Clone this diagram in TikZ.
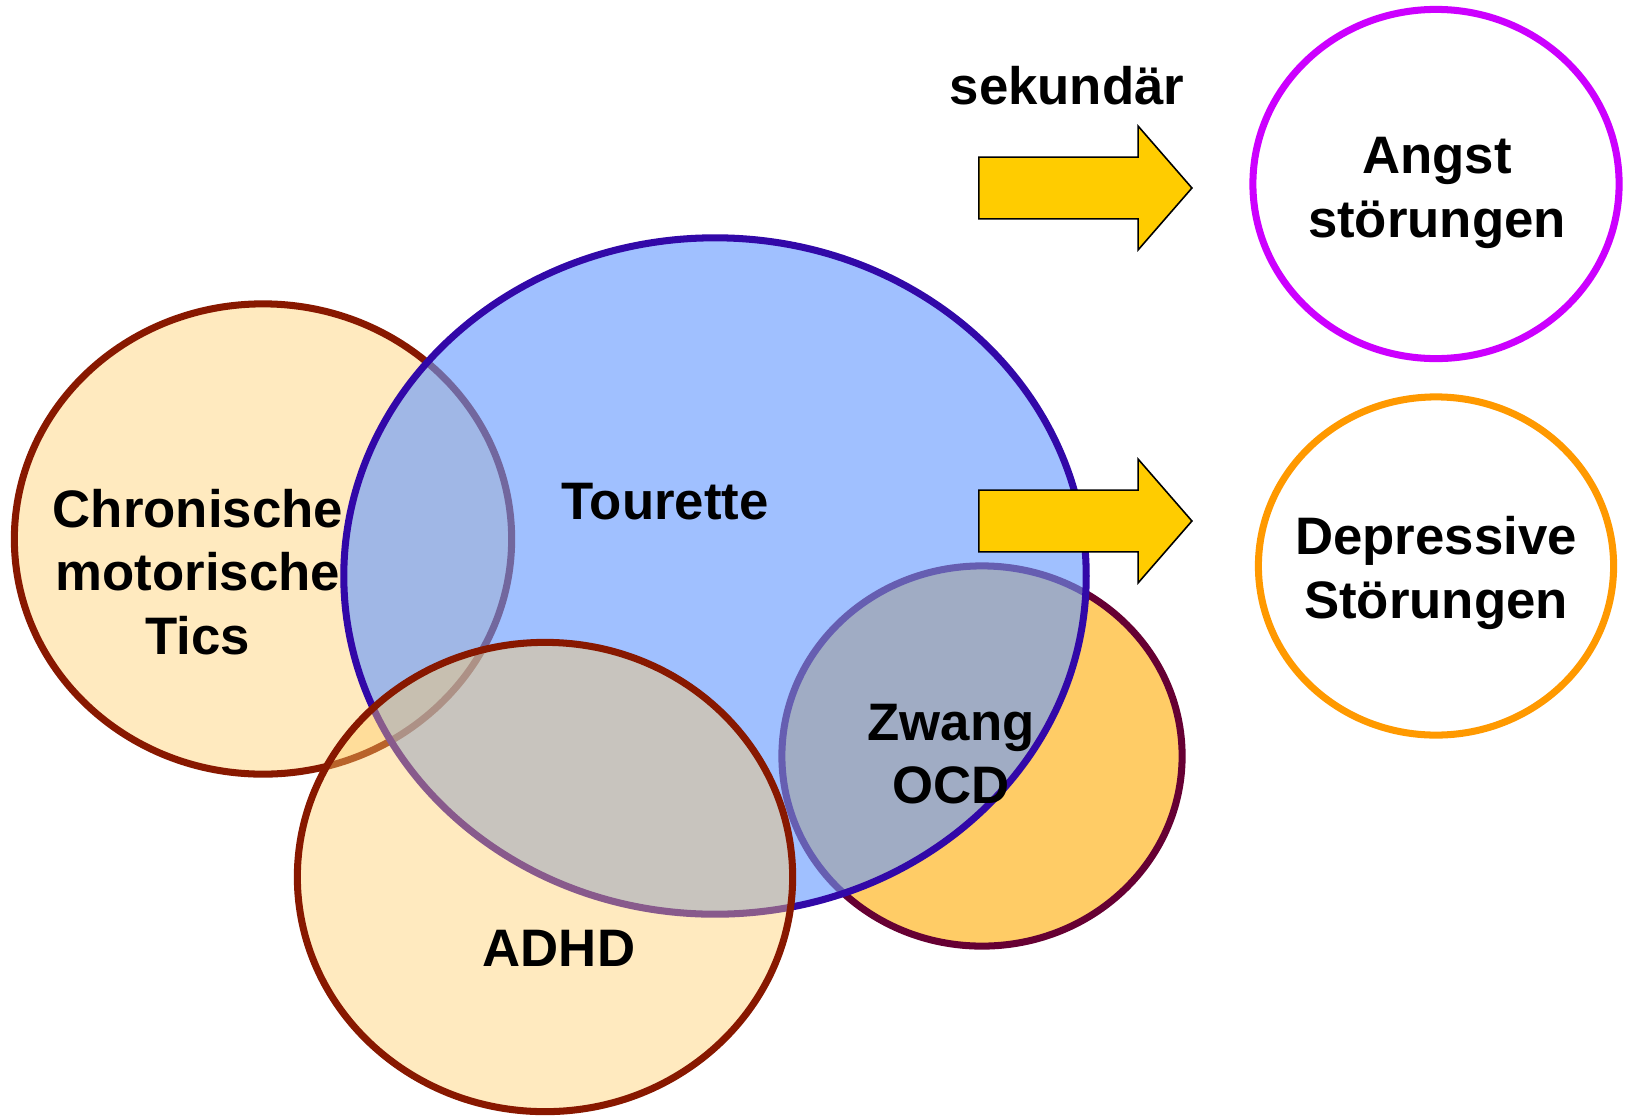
\documentclass[tikz,border=0pt]{standalone}
\usepackage{fontspec}
\setmainfont{Liberation Sans}
\usepackage{tikz}
\usetikzlibrary{shapes.geometric,shapes.arrows,positioning}
\definecolor{ticred}{RGB}{136,24,0}
\definecolor{tourblue}{RGB}{50,8,168}
\definecolor{tourfill}{RGB}{102,153,255}
\definecolor{setfill}{RGB}{255,204,102}
\definecolor{ocdred}{RGB}{102,0,51}
\definecolor{angstpink}{RGB}{204,0,255}
\definecolor{deprorange}{RGB}{255,153,0}
\definecolor{arrowgold}{RGB}{255,204,0}
\tikzset{
  setellipse/.style={ellipse,inner sep=0pt,line width=2pt},
  setlabel/.style={font=\fontsize{15}{18}\selectfont\bfseries,align=center,inner sep=0pt},
  secarrow/.style={single arrow,draw=black,line width=0.45pt,fill=arrowgold,anchor=tail,
    inner sep=0.3cm,minimum height=2.13cm,single arrow head extend=0.31cm,
    single arrow tip angle=98}
}

\begin{document}
\begin{tikzpicture}[x=0.01cm,y=-0.01cm]
  \useasboundingbox (0,0) rectangle (1625,1115);
  \node[setellipse,draw=ticred,fill=setfill,fill opacity=0.42,minimum width=4.97cm,minimum height=4.70cm] (tics) at (263,539) {};
  \node[setellipse,draw=ocdred,fill=setfill,minimum width=4.00cm,minimum height=3.80cm] (ocd) at (982,756) {};
  \node[setellipse,draw=tourblue,fill=tourfill,fill opacity=0.62,minimum width=7.42cm,minimum height=6.76cm] (tourette) at (715,576) {};
  \node[setellipse,draw=ticred,fill=setfill,fill opacity=0.42,minimum width=4.95cm,minimum height=4.69cm] (adhd) at (545,877) {};
  \node[setellipse,draw=angstpink,minimum width=3.66cm,minimum height=3.49cm] (angst) at (1436,184) {};
  \node[setellipse,draw=deprorange,minimum width=3.55cm,minimum height=3.38cm] (depr) at (1436,566) {};

  \node[secarrow] (arrowtop) at (978,188) {};
  \node[secarrow] (arrowbottom) at (978,521) {};

  \node[setlabel] (sekundaer) at (1067,86) {sekundär};
  \node[setlabel] (ticslabel) at (198,572) {Chronische\\motorische\\Tics};
  \node[setlabel] (tourettelabel) at (665,502) {Tourette};
  \node[setlabel] (ocdlabel) at (951,754) {Zwang\\OCD};
  \node[setlabel] (adhdlabel) at (559,948) {ADHD};
  \node[setlabel] (angstlabel) at (1437,193) {Angst\\störungen};
  \node[setlabel] (deprlabel) at (1436,573) {Depressive\\Störungen};
\end{tikzpicture}
\end{document}
